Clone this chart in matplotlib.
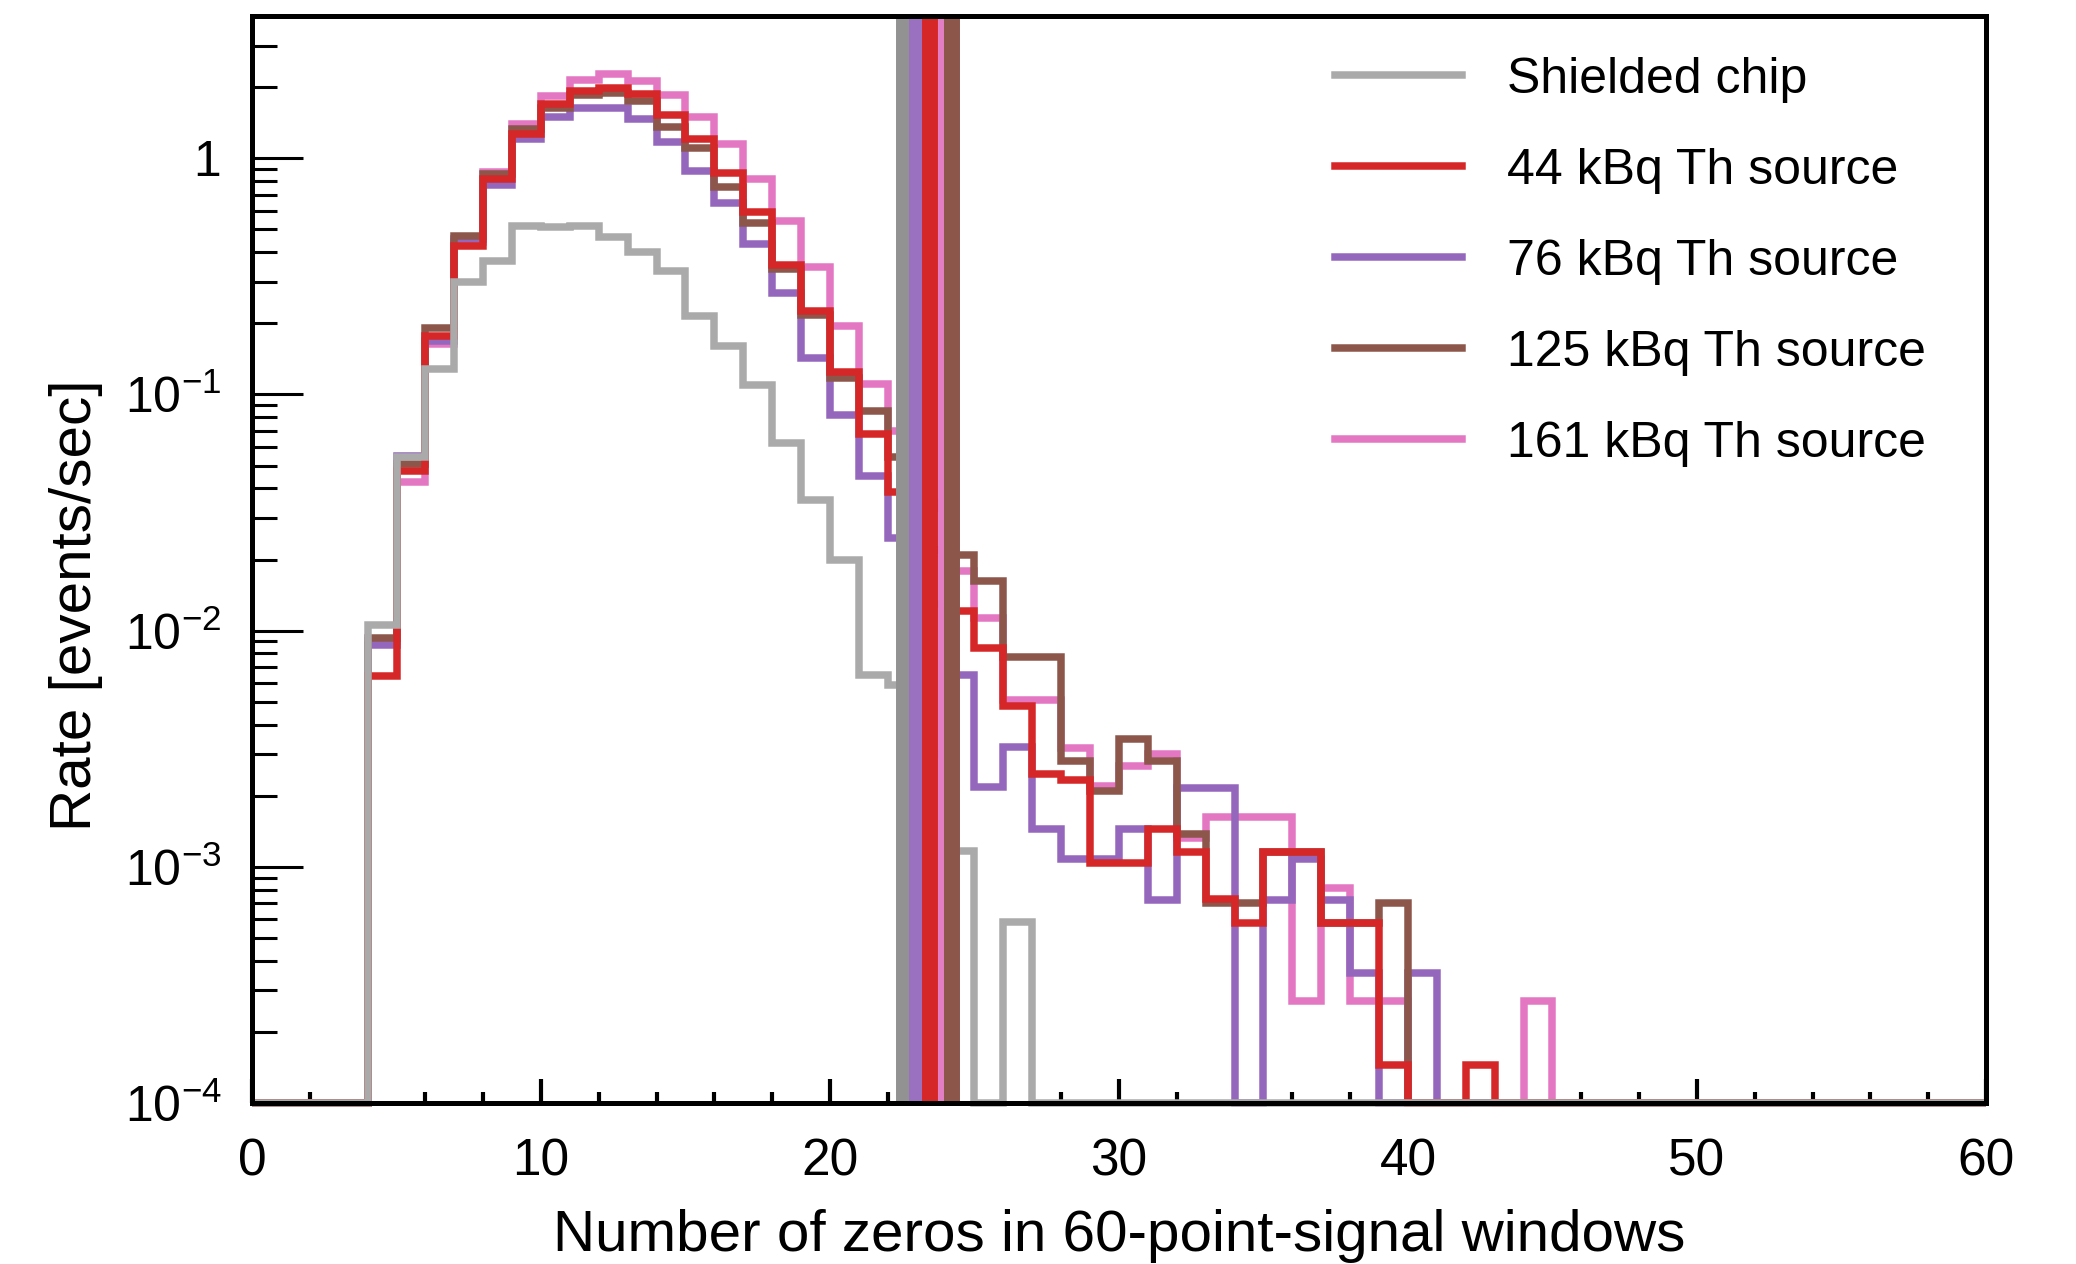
import numpy as np
import matplotlib
matplotlib.use("Agg")
import matplotlib.pyplot as plt
from matplotlib.ticker import MultipleLocator, LogLocator, FixedLocator, FuncFormatter, NullFormatter
from matplotlib.lines import Line2D

plt.rcParams['font.family'] = ['Liberation Sans', 'DejaVu Sans']
plt.rcParams['mathtext.fontset'] = 'custom'
plt.rcParams['mathtext.rm'] = 'Liberation Sans'
plt.rcParams['mathtext.default'] = 'regular'

# ---- data: rate per bin (bins of width 1 from 0 to 60); 0 = empty bin ----
bin_edges = list(range(0, 61))

shielded = [0, 0, 0, 0, 0.0106, 0.0545, 0.128, 0.298, 0.366, 0.518,
            0.510, 0.518, 0.462, 0.400, 0.334, 0.215, 0.161, 0.110, 0.0625, 0.0356,
            0.0199, 0.0065, 0.0059, 0.003, 0.00117, 0, 0.000586, 0, 0, 0,
            0, 0, 0, 0, 0, 0, 0, 0, 0, 0,
            0, 0, 0, 0, 0, 0, 0, 0, 0, 0,
            0, 0, 0, 0, 0, 0, 0, 0, 0, 0]

th44 = [0, 0, 0, 0, 0.0064, 0.0474, 0.177, 0.424, 0.816, 1.27,
        1.70, 1.93, 1.98, 1.87, 1.52, 1.21, 0.87, 0.593, 0.353, 0.226,
        0.124, 0.0678, 0.0386, 0.022, 0.0121, 0.00846, 0.00478, 0.00246, 0.00233, 0.00104,
        0.00104, 0.00144, 0.00116, 0.00073, 0.00058, 0.00116, 0.00116, 0.00058, 0.00058, 0.000145,
        0, 0, 0.000145, 0, 0, 0, 0, 0, 0, 0,
        0, 0, 0, 0, 0, 0, 0, 0, 0, 0]

th76 = [0, 0, 0, 0, 0.00865, 0.055, 0.169, 0.455, 0.770, 1.21,
        1.50, 1.64, 1.64, 1.47, 1.17, 0.885, 0.644, 0.433, 0.268, 0.143,
        0.0816, 0.0451, 0.0246, 0.013, 0.00646, 0.00217, 0.00322, 0.00144, 0.00108, 0.00108,
        0.00144, 0.00072, 0.00215, 0.00215, 0, 0.00072, 0.00108, 0.00072, 0.000355, 0,
        0.000355, 0, 0, 0, 0, 0, 0, 0, 0, 0,
        0, 0, 0, 0, 0, 0, 0, 0, 0, 0]

th125 = [0, 0, 0, 0, 0.00927, 0.0506, 0.192, 0.469, 0.857, 1.33,
         1.63, 1.86, 1.88, 1.75, 1.36, 1.10, 0.753, 0.53, 0.34, 0.217,
         0.117, 0.085, 0.0543, 0.033, 0.021, 0.0162, 0.00773, 0.00773, 0.0028, 0.0021,
         0.00348, 0.0028, 0.00138, 0.000705, 0.000705, 0.00116, 0.00116, 0.00058, 0.00058, 0.000705,
         0, 0, 0, 0, 0, 0, 0, 0, 0, 0,
         0, 0, 0, 0, 0, 0, 0, 0, 0, 0]

th161 = [0, 0, 0, 0, 0.009, 0.0426, 0.163, 0.44, 0.874, 1.40,
         1.84, 2.15, 2.27, 2.13, 1.86, 1.50, 1.15, 0.816, 0.544, 0.347,
         0.194, 0.111, 0.070, 0.035, 0.0178, 0.01127, 0.0051, 0.0051, 0.00319, 0.0022,
         0.00268, 0.00299, 0.00133, 0.00162, 0.00162, 0.00162, 0.000269, 0.00081, 0.000269, 0.000269,
         0, 0, 0, 0, 0.000269, 0, 0, 0, 0, 0,
         0, 0, 0, 0, 0, 0, 0, 0, 0, 0]

labels = ["Shielded chip", "44 kBq Th source", "76 kBq Th source",
          "125 kBq Th source", "161 kBq Th source"]
step_colors = ['#aaaaaa', '#d62728', '#9467bd', '#8c564b', '#e377c2']
cut_colors = ['#929292', '#d62728', '#9a70c0', '#8c564b', '#e47ec4']
# vertical cut positions per dataset (same order as labels)
cut_positions = [22.55, 23.46, 23.0, 24.22, 24.02]

y_floor = 1e-4
y_top = 4.0

fig = plt.figure(figsize=(20.76, 12.64), dpi=100)
ax = fig.add_axes([0.1214, 0.1274, 0.8352, 0.8599])

series = [shielded, th44, th76, th125, th161]
# draw order: pink, purple, brown, red, gray (gray on top)
draw_order = [4, 2, 3, 1, 0]
for z, i in enumerate(draw_order):
    vals = np.array(series[i], dtype=float)
    vals = np.where(vals > 0, vals, y_floor)
    ax.stairs(vals, bin_edges, baseline=None, color=step_colors[i],
              linewidth=5.4, zorder=2 + 0.01 * z, clip_on=False)

# vertical cut lines
cut_order = [0, 2, 4, 1, 3]
for z, i in enumerate(cut_order):
    ax.axvline(cut_positions[i], color=cut_colors[i], linewidth=11.5,
               zorder=2.2 + 0.01 * z)

ax.set_yscale('log')
ax.set_xlim(0, 60)
ax.set_ylim(y_floor, y_top)

ax.xaxis.set_major_locator(MultipleLocator(10))
ax.xaxis.set_minor_locator(MultipleLocator(2))
ax.yaxis.set_major_locator(FixedLocator([1e-4, 1e-3, 1e-2, 1e-1, 1]))
ax.yaxis.set_minor_locator(LogLocator(base=10, subs=np.arange(2, 10), numticks=20))
ax.yaxis.set_minor_formatter(NullFormatter())


def yfmt(v, pos):
    e = int(round(np.log10(v)))
    if e == 0:
        return "1"
    return r"$\mathdefault{10^{%d}}$" % e


ax.yaxis.set_major_formatter(FuncFormatter(yfmt))

ax.tick_params(axis='both', which='both', direction='in', top=False, right=False)
ax.tick_params(axis='y', which='major', length=37, width=2.2, labelsize=36, pad=22)
ax.tick_params(axis='y', which='minor', length=18, width=2.2)
ax.tick_params(axis='x', which='major', length=17, width=3, labelsize=37, pad=25)
ax.tick_params(axis='x', which='minor', length=8, width=3)

for sp in ax.spines.values():
    sp.set_linewidth(3.6)
    sp.set_zorder(3)

ax.set_xlabel("Number of zeros in 60-point-signal windows", fontsize=42, labelpad=16)
ax.set_ylabel("Rate [events/sec]", fontsize=42)
ax.yaxis.set_label_coords(-0.086, 0.458)

handles = [Line2D([], [], color=step_colors[i], linewidth=5.4) for i in range(5)]
fig.legend(handles, labels, loc='upper left', bbox_to_anchor=(0.643, 0.955),
           bbox_transform=fig.transFigure, frameon=False, fontsize=36,
           handlelength=2.55, handletextpad=0.9, labelspacing=0.90,
           borderpad=0, borderaxespad=0)

fig.savefig("out.png", dpi=100)
